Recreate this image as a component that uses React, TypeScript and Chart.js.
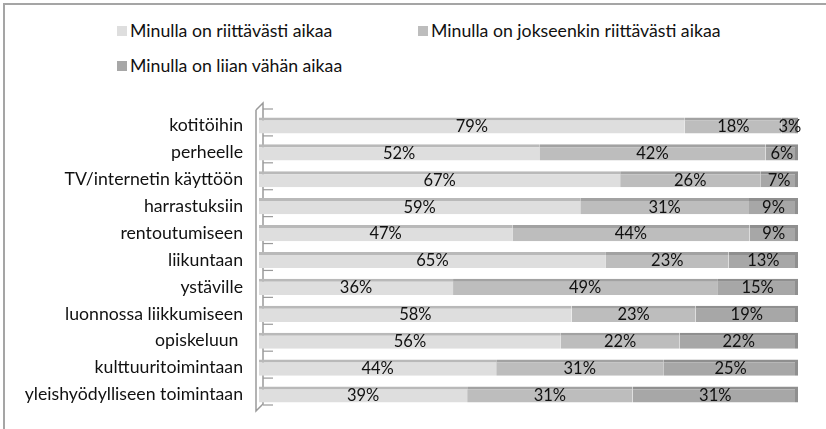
import React, { useEffect, useRef } from "react";
import { Chart, registerables } from "chart.js";

Chart.register(...registerables);

const categories = [
  "kotitöihin",
  "perheelle",
  "TV/internetin käyttöön",
  "harrastuksiin",
  "rentoutumiseen",
  "liikuntaan",
  "ystäville",
  "luonnossa liikkumiseen",
  "opiskeluun ",
  "kulttuuritoimintaan",
  "yleishyödylliseen toimintaan",
];
const seriesNames = [
  "Minulla on riittävästi aikaa",
  "Minulla on jokseenkin riittävästi aikaa",
  "Minulla on liian vähän aikaa",
];
const riittavasti = [79, 52, 67, 59, 47, 65, 36, 58, 56, 44, 39];
const jokseenkin = [18, 42, 26, 31, 44, 23, 49, 23, 22, 31, 31];
const liianVahan = [3, 6, 7, 9, 9, 13, 15, 19, 22, 25, 31];

const FONT = "Lato, 'Open Sans', sans-serif";
const frontColors = ["#dedede", "#bdbdbd", "#a7a7a7"];
const topColors = ["#b9b9b9", "#a2a2a2", "#8f8f8f"];

const valuesList = [riittavasti, jokseenkin, liianVahan];
const totals = categories.map((_, i) => valuesList.reduce((s, arr) => s + arr[i], 0));

const wallPlugin = {
  id: "wall",
  beforeDatasetsDraw(chart: any) {
    const { ctx, chartArea, scales } = chart;
    const y = scales.y;
    const l = chartArea.left;
    const top = chartArea.top;
    const bottom = chartArea.bottom;
    ctx.save();
    ctx.strokeStyle = "#9a9a9a";
    ctx.lineWidth = 1.5;
    ctx.beginPath();
    ctx.moveTo(l - 3, top - 2);
    ctx.lineTo(l - 3, bottom + 3);
    ctx.lineTo(l + 4, bottom - 4);
    ctx.lineTo(l + 4, top - 9);
    ctx.lineTo(l - 3, top - 2);
    ctx.stroke();
    ctx.lineWidth = 1.2;
    const n = categories.length;
    for (let i = 0; i <= n; i++) {
      const yy = y.getPixelForValue(i - 0.5) - 3;
      ctx.beginPath();
      ctx.moveTo(l + 4, yy);
      ctx.lineTo(l + 14, yy);
      ctx.stroke();
    }
    ctx.restore();
  },
};

const labelPlugin = {
  id: "valueLabels",
  afterDatasetsDraw(chart: any) {
    const { ctx } = chart;
    ctx.save();
    ctx.font = `16.5px ${FONT}`;
    ctx.fillStyle = "#111";
    ctx.textAlign = "center";
    ctx.textBaseline = "middle";
    chart.data.datasets.forEach((ds: any, di: number) => {
      const meta = chart.getDatasetMeta(di);
      meta.data.forEach((el: any, i: number) => {
        const p = el.getCenterPoint();
        ctx.fillText(valuesList[di][i] + "%", p.x, p.y + 1);
      });
    });
    ctx.restore();
  },
};

export default function App() {
  const ref = useRef<HTMLCanvasElement | null>(null);

  useEffect(() => {
    if (!ref.current) return;
    const datasets = valuesList.map((vals, di) => ({
      label: seriesNames[di],
      data: vals.map((v, i) => (v / totals[i]) * 100),
      backgroundColor: frontColors[di],
      borderColor: topColors[di],
      borderWidth: di === 2 ? { top: 3, right: 3, bottom: 0, left: 0 } : { top: 3, right: 0, bottom: 0, left: 0 },
      borderSkipped: false as any,
      barPercentage: 0.6,
      categoryPercentage: 1,
    }));
    const chart = new Chart(ref.current, {
      type: "bar",
      data: { labels: categories, datasets },
      options: {
        indexAxis: "y",
        animation: false,
        responsive: false,
        maintainAspectRatio: false,
        layout: { padding: { top: 112, bottom: 21, right: 28, left: 0 } },
        plugins: {
          legend: { display: false },
          tooltip: { enabled: false },
        },
        scales: {
          x: { stacked: true, min: 0, max: 100, display: false },
          y: {
            stacked: true,
            grid: { display: false },
            border: { display: false },
            ticks: {
              color: "#111",
              font: { family: FONT, size: 17.7 },
              padding: 8,
            },
            afterFit: (scale: any) => {
              scale.width = 259;
            },
          },
        },
      },
      plugins: [wallPlugin, labelPlugin],
    });
    return () => chart.destroy();
  }, []);

  const legendItem = (i: number, left: number, top: number) => (
    <div
      key={i}
      style={{
        position: "absolute",
        left,
        top,
        display: "flex",
        alignItems: "center",
        font: `17.7px ${FONT}`,
        color: "#111",
        whiteSpace: "nowrap",
      }}
    >
      <span style={{ display: "inline-block", width: 10, height: 10, background: frontColors[i], marginRight: 3 }} />
      {seriesNames[i]}
    </div>
  );

  return (
    <div style={{ position: "fixed", left: 0, top: 0, width: 826, height: 429, background: "#fff", overflow: "hidden" }}>
      <div
        style={{
          position: "absolute",
          left: 3,
          top: 3,
          width: 840,
          height: 440,
          borderLeft: "2px solid #a5a5a5",
          borderTop: "2px solid #a5a5a5",
        }}
      />
      {legendItem(0, 117, 20)}
      {legendItem(1, 418, 20)}
      {legendItem(2, 117, 55)}
      <canvas ref={ref} width={826} height={429} style={{ position: "absolute", left: 0, top: 0 }} />
    </div>
  );
}
